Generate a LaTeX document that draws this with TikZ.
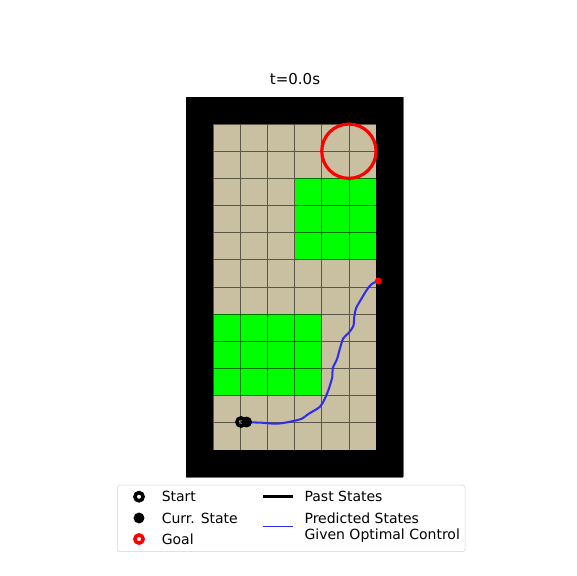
\documentclass[tikz,border=0pt]{standalone}
\usepackage{fontspec}
\setmainfont{DejaVu Sans}
\usepackage{tikz}
\usetikzlibrary{positioning,calc}
\definecolor{sandbeige}{RGB}{201,192,161}
\definecolor{freegreen}{RGB}{0,255,0}
\definecolor{pathblue}{RGB}{45,45,235}
\definecolor{legendgray}{RGB}{210,210,210}

\begin{document}
\begin{tikzpicture}[x=0.75cm, y=0.75cm, font=\fontsize{11}{12}\selectfont,
    startmark/.style={circle, draw=black, line width=2.8pt, minimum size=6.4pt, inner sep=0pt},
    currmark/.style={circle, fill=black, minimum size=8.6pt, inner sep=0pt},
    goalmark/.style={circle, draw=red, line width=2.8pt, minimum size=6.4pt, inner sep=0pt},
    legtext/.style={anchor=west, inner sep=0pt, align=left}]
    \useasboundingbox (-6.851,-3.646) rectangle (14.364,17.569);
    \fill[black] (0,0) rectangle (8,14);
    \fill[sandbeige] (1,1) rectangle (7,13);
    \fill[freegreen] (4,8) rectangle (7,11);
    \fill[freegreen] (1,3) rectangle (5,6);
    \draw[black, opacity=0.55, line width=0.5pt, step=0.75cm] (0,0) grid (8,14);
    \draw[red, line width=2.5pt] (6,12) circle (1);
    \node[font=\fontsize{11.8}{14}\selectfont] (title) at (4.015,14.65) {t=0.0s};
    \draw[pathblue, line width=1.6pt] plot[smooth, tension=0.5] coordinates {
        (2.23,2.026) (2.357,2.015) (2.788,2.0) (3.341,1.963) (3.831,2.037) (4.262,2.147)
        (4.505,2.320) (4.935,2.589) (5.120,2.899) (5.267,3.267) (5.389,3.694)
        (5.403,4.004) (5.551,4.309) (5.672,4.740) (5.794,5.109) (5.978,5.293)
        (6.162,5.562) (6.199,5.904) (6.262,6.214) (6.471,6.582) (6.656,6.888)
        (6.840,7.109) (7.083,7.219)};
    \fill[red] (7.083,7.219) circle (0.13);
    \node[startmark] (start) at (2.026,2.026) {};
    \node[currmark] (curr) at (2.23,2.026) {};

    \draw[legendgray, fill=white, rounded corners=2pt] (-2.53,-0.295) rectangle (10.276,-2.751);
    \node[startmark] (lstart) at (-1.731,-0.726) {};
    \node[currmark] (lcurr) at (-1.731,-1.510) {};
    \node[goalmark] (lgoal) at (-1.731,-2.284) {};
    \node[legtext] (tstart) at (-0.902,-0.726) {Start};
    \node[legtext] (tcurr) at (-0.902,-1.510) {Curr. State};
    \node[legtext] (tgoal) at (-0.902,-2.284) {Goal};
    \coordinate (pastA) at (2.847,-0.726);
    \coordinate (pastB) at (3.952,-0.726);
    \coordinate (predA) at (2.847,-1.831);
    \coordinate (predB) at (3.952,-1.831);
    \draw[black, line width=2.5pt] (pastA) -- (pastB);
    \draw[pathblue, line width=1.2pt] (predA) -- (predB);
    \node[legtext] (tpast) at (4.357,-0.726) {Past States};
    \node[legtext] (tpred) at (4.357,-1.86) {Predicted States\\Given Optimal Control};
\end{tikzpicture}
\end{document}
